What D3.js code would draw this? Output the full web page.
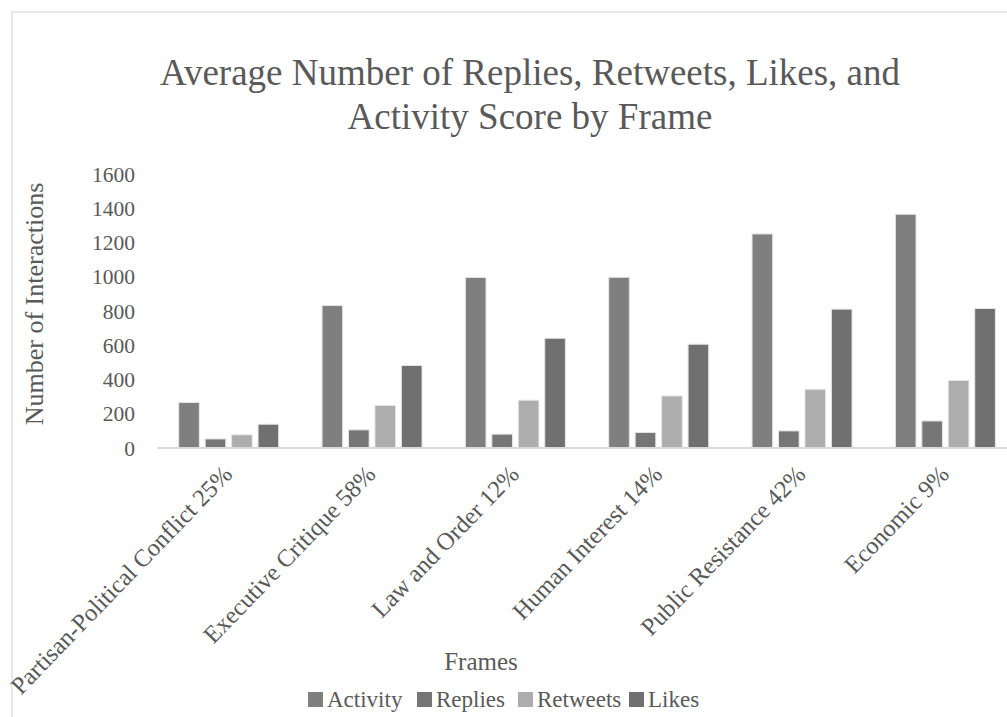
<!DOCTYPE html>
<html><head><meta charset="utf-8">
<script src="https://cdn.jsdelivr.net/npm/d3@7"></script>
<style>body{margin:0;background:#fff}svg{display:block}text{font-family:"Liberation Serif","Times New Roman",serif;fill:#595959}</style>
</head><body><svg id="c" width="1007" height="717"></svg>
<script>
const categories = ["Partisan-Political Conflict 25%","Executive Critique 58%","Law and Order 12%","Human Interest 14%","Public Resistance 42%","Economic 9%"];
const seriesNames = ["Activity","Replies","Retweets","Likes"];
const activity = [263, 829, 993, 994, 1247, 1362];
const replies  = [50, 103, 78, 88, 97, 155];
const retweets = [74, 245, 276, 301, 340, 391];
const likes    = [136, 479, 638, 603, 808, 812];
const yTicks = [0,200,400,600,800,1000,1200,1400,1600];
const colors = ["#7f7f7f","#767676","#adadad","#707070"];

const values = [activity, replies, retweets, likes];
const svg = d3.select("#c");
const serif = '"Liberation Serif","Times New Roman",serif';

// chart border
svg.append("rect").attr("x",12).attr("y",12).attr("width",1100).attr("height",800)
  .attr("fill","none").attr("stroke","#d9d9d9").attr("stroke-width",1.2);

const x0 = d3.scaleBand().domain(categories).range([157,1017]).paddingInner(0).paddingOuter(0);
const x1 = d3.scaleBand().domain(seriesNames).range([21.7, 121.7]).paddingInner(0.22).paddingOuter(0);
const y = d3.scaleLinear().domain([0,1600]).range([447.5,173.5]);

// title
const t = svg.append("text").attr("text-anchor","middle").style("font-size","37px");
t.append("tspan").attr("x",530).attr("y",85).text("Average Number of Replies, Retweets, Likes, and");
t.append("tspan").attr("x",530).attr("y",129).text("Activity Score by Frame");

// y axis labels
const yAxis = d3.axisLeft(y).tickValues(yTicks).tickSize(0).tickPadding(0).tickFormat(d3.format("d"));
const gy = svg.append("g").attr("transform","translate(135,0)").call(yAxis);
gy.select(".domain").remove();
gy.selectAll("text").style("font-size","21.5px").attr("fill","#595959").attr("dy","0.35em")
  .style("font-family",serif);

// bars
const groups = svg.append("g").selectAll("g").data(categories).join("g")
  .attr("transform", d => `translate(${x0(d)},0)`);
groups.selectAll("rect").data((d,i) => seriesNames.map((s,j) => ({s, v: values[j][i], j})))
  .join("rect")
  .attr("x", d => x1(d.s)).attr("width", x1.bandwidth())
  .attr("y", d => y(d.v)).attr("height", d => y(0) - y(d.v))
  .attr("fill", d => colors[d.j]).attr("stroke","#e6e6e6").attr("stroke-width",1);

// x axis
const xAxis = d3.axisBottom(x0).tickSize(0).tickPadding(0);
const gx = svg.append("g").attr("transform",`translate(0,${y(0)})`).call(xAxis);
gx.select(".domain").attr("stroke","#d9d9d9").attr("stroke-width",2);
gx.selectAll("text").style("font-size","24.5px").attr("fill","#595959")
  .style("font-family",serif)
  .attr("text-anchor","end").attr("dy",null).attr("y",0)
  .attr("transform","translate(5,28) rotate(-46)");

// axis titles
svg.append("text").attr("transform","translate(43,304) rotate(-90)").attr("text-anchor","middle")
  .style("font-size","26px").text("Number of Interactions");
svg.append("text").attr("x",481).attr("y",670).attr("text-anchor","middle")
  .style("font-size","25px").text("Frames");

// legend
const legX = [308, 417, 518, 629];
const leg = svg.append("g").selectAll("g").data(seriesNames).join("g")
  .attr("transform",(d,i)=>`translate(${legX[i]},707)`);
leg.append("rect").attr("x",0).attr("y",-15).attr("width",15).attr("height",15).attr("fill",(d,i)=>colors[i]);
leg.append("text").attr("x",19).attr("y",0).style("font-size","23px").text(d=>d);
</script></body></html>
